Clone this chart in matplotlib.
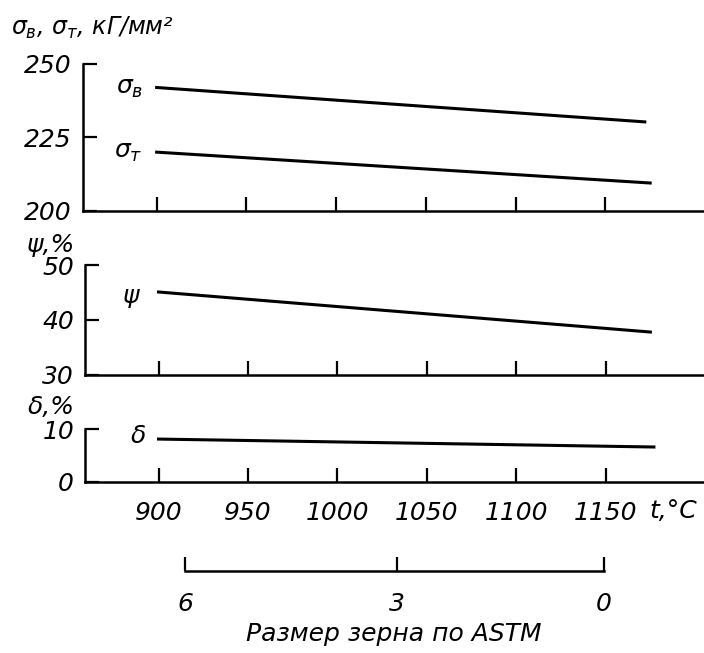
import numpy as np
import matplotlib.pyplot as plt

plt.rcParams['font.family'] = ['DejaVu Sans']
plt.rcParams['font.style'] = 'italic'
plt.rcParams['mathtext.default'] = 'it'

# данные
t_sb = [900, 1172]
sigma_b = [242, 230.3]
t_st = [900, 1175]
sigma_t = [220, 209.5]
t_psi = [900, 1175]
psi = [45.1, 37.8]
t_delta = [900, 1177]
delta = [8.1, 6.6]

temp_ticks = [900, 950, 1000, 1050, 1100, 1150]
astm_temp = [916, 1034, 1149]
astm_labels = ['6', '3', '0']

fs = 18
fig = plt.figure(figsize=(7.04, 6.53), dpi=100)

ax1 = fig.add_axes([0.118, 0.677, 0.882, 0.225])
ax2 = fig.add_axes([0.121, 0.426, 0.879, 0.168])
ax3 = fig.add_axes([0.121, 0.262, 0.879, 0.081])
ax4 = fig.add_axes([0.118, 0.126, 0.882, 0.03])

xlim = (859, 1205)
for ax in (ax1, ax2, ax3):
    ax.set_xlim(*xlim)
    for s in ('top', 'right'):
        ax.spines[s].set_visible(False)
    ax.spines['left'].set_linewidth(1.8)
    ax.spines['bottom'].set_linewidth(1.8)
    ax.set_xticks(temp_ticks)
    ax.tick_params(direction='in', length=10, width=1.6, labelsize=fs, pad=8)

ax1.plot(t_sb, sigma_b, color='black', lw=2.2)
ax1.plot(t_st, sigma_t, color='black', lw=2.2)
ax1.set_ylim(200, 250)
ax1.set_yticks([200, 225, 250])
ax1.set_xticklabels([])
ax1.annotate(r'$\sigma_в$', (t_sb[0], sigma_b[0]), xytext=(-10, 0), textcoords='offset points',
             ha='right', va='center', fontsize=fs)
ax1.annotate(r'$\sigma_т$', (t_st[0], sigma_t[0]), xytext=(-10, 0), textcoords='offset points',
             ha='right', va='center', fontsize=fs)

ax2.plot(t_psi, psi, color='black', lw=2.2)
ax2.set_ylim(30, 50)
ax2.set_yticks([30, 40, 50])
ax2.set_xticklabels([])
ax2.annotate('ψ', (t_psi[0], psi[0]), xytext=(-14, -3), textcoords='offset points',
             ha='right', va='center', fontsize=fs)

ax3.plot(t_delta, delta, color='black', lw=2.2)
ax3.set_ylim(0, 10)
ax3.set_yticks([0, 10])
ax3.set_xticklabels([str(v) for v in temp_ticks])
ax3.tick_params(axis='x', pad=14)
ax3.annotate('δ', (t_delta[0], delta[0]), xytext=(-9, 2), textcoords='offset points',
             ha='right', va='center', fontsize=fs)
ax3.text(1188, -0.55, 't,°C', transform=ax3.get_xaxis_transform(),
         ha='center', va='center', fontsize=fs)

ax4.set_xlim(*xlim)
ax4.set_ylim(0, 1)
for s in ('top', 'right', 'left'):
    ax4.spines[s].set_visible(False)
ax4.spines['bottom'].set_bounds(astm_temp[0], astm_temp[-1])
ax4.spines['bottom'].set_linewidth(1.8)
ax4.set_yticks([])
ax4.set_xticks(astm_temp)
ax4.set_xticklabels(astm_labels)
ax4.tick_params(axis='x', direction='in', length=10, width=1.6, labelsize=fs, pad=15)
ax4.set_xlabel('Размер зерна по ASTM', fontsize=18, labelpad=5)

fig.text(0.015, 0.958, r'$\sigma_в$, $\sigma_т$, кГ/мм²', fontsize=17, va='center')
fig.text(0.038, 0.625, 'ψ,%', fontsize=fs, va='center')
fig.text(0.04, 0.377, 'δ,%', fontsize=fs, va='center')

fig.savefig('out.png', dpi=100)
